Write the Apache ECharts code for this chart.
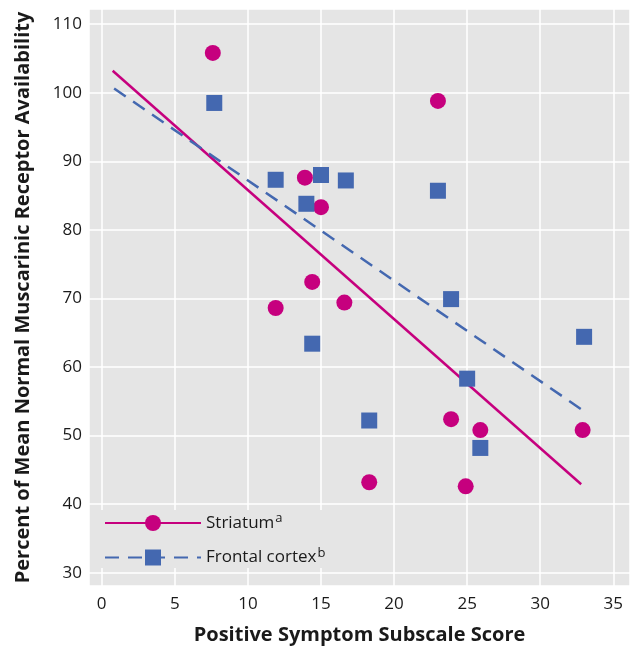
<!DOCTYPE html>
<html>
<head>
<meta charset="utf-8">
<script src="https://cdn.jsdelivr.net/npm/echarts@6/dist/echarts.min.js"></script>
<style>
html,body{margin:0;padding:0;background:#fff;}
#c{width:638px;height:650px;}
</style>
</head>
<body>
<div id="c"></div>
<script>
// Striatum (circles)
var striatumX = [7.6, 23.0, 13.9, 15.0, 11.9, 14.4, 16.6, 23.9, 25.9, 32.9, 18.3, 24.9];
var striatumY = [105.8, 98.8, 87.6, 83.3, 68.6, 72.4, 69.4, 52.4, 50.8, 50.8, 43.2, 42.6];
// Frontal cortex (squares)
var frontalX = [7.7, 11.9, 15.0, 16.7, 14.0, 23.0, 14.4, 23.9, 33.0, 25.0, 18.3, 25.9];
var frontalY = [98.5, 87.3, 88.0, 87.2, 83.8, 85.7, 63.4, 69.9, 64.4, 58.3, 52.2, 48.2];
// Regression line endpoints
var striatumFitX = [0.75, 32.8];
var striatumFitY = [103.2, 42.9];
var frontalFitX = [0.85, 32.9];
var frontalFitY = [100.6, 53.7];
// Axis ticks
var xTicks = [0, 5, 10, 15, 20, 25, 30, 35];
var yTicks = [30, 40, 50, 60, 70, 80, 90, 100, 110];
var seriesNames = ['Striatum', 'Frontal cortex'];
var seriesSup = ['a', 'b'];

function zip(xs, ys) { return xs.map(function (x, i) { return [x, ys[i]]; }); }

var MAG = '#c6007e', BLU = '#4468b0', FONT = 'Open Sans', TXT = '#1a1a1a';

var chart = echarts.init(document.getElementById('c'), null, {renderer: 'canvas'});
chart.setOption({
  animation: false,
  backgroundColor: '#ffffff',
  grid: {left: 89, right: 8, top: 9, bottom: 61, show: true, backgroundColor: '#e5e5e5', borderWidth: 0},
  xAxis: {
    type: 'value', min: -0.87, max: 36.14, minInterval: 5, maxInterval: 5,
    axisLine: {show: false}, axisTick: {show: false},
    splitLine: {show: true, lineStyle: {color: '#ffffff', width: 1.5}},
    axisLabel: {
      margin: 10, color: TXT, fontFamily: FONT, fontSize: 17,
      formatter: function (v) { return xTicks.indexOf(Math.round(v * 1000) / 1000) >= 0 ? String(v) : ''; }
    },
    name: 'Positive Symptom Subscale Score', nameLocation: 'middle', nameGap: 39,
    nameTextStyle: {color: TXT, fontFamily: FONT, fontSize: 20, fontWeight: 'bold'}
  },
  yAxis: {
    type: 'value', min: 28.07, max: 112.2, minInterval: 10, maxInterval: 10,
    axisLine: {show: false}, axisTick: {show: false},
    splitLine: {show: true, lineStyle: {color: '#ffffff', width: 1.5}},
    axisLabel: {
      margin: 7, color: TXT, fontFamily: FONT, fontSize: 17,
      formatter: function (v) { return yTicks.indexOf(Math.round(v * 1000) / 1000) >= 0 ? String(v) : ''; }
    },
    name: 'Percent of Mean Normal Muscarinic Receptor Availability', nameLocation: 'middle', nameGap: 56,
    nameTextStyle: {color: TXT, fontFamily: FONT, fontSize: 20, fontWeight: 'bold'}
  },
  legend: {
    data: seriesNames,
    orient: 'vertical', left: 96, top: 510,
    padding: [2, 12, 2, 8],
    backgroundColor: '#e5e5e5',
    itemWidth: 96, itemHeight: 20, itemGap: 15,
    textStyle: {
      color: TXT, fontFamily: FONT, fontSize: 17,
      rich: {
        n: {color: TXT, fontFamily: FONT, fontSize: 17, lineHeight: 22},
        s: {color: TXT, fontFamily: FONT, fontSize: 13, verticalAlign: 'top', padding: [0, 0, 8, 1]}
      }
    },
    formatter: function (name) {
      var i = seriesNames.indexOf(name);
      return '{n|' + name + '}{s|' + seriesSup[i] + '}';
    }
  },
  series: [
    {
      name: seriesNames[0], type: 'line', data: zip(striatumFitX, striatumFitY),
      symbol: 'circle', symbolSize: 16, showSymbol: false,
      lineStyle: {color: MAG, width: 2.5}, itemStyle: {color: MAG}, z: 2
    },
    {
      name: seriesNames[1], type: 'line', data: zip(frontalFitX, frontalFitY),
      symbol: 'rect', symbolSize: 16, showSymbol: false,
      lineStyle: {color: BLU, width: 2.5, type: [14, 9]}, itemStyle: {color: BLU}, z: 2
    },
    {
      name: 'striatum-points', type: 'scatter', data: zip(striatumX, striatumY),
      symbol: 'circle', symbolSize: 16, itemStyle: {color: MAG, opacity: 1}, z: 3
    },
    {
      name: 'frontal-points', type: 'scatter', data: zip(frontalX, frontalY),
      symbol: 'rect', symbolSize: 16, itemStyle: {color: BLU, opacity: 1}, z: 3
    }
  ]
});
</script>
</body>
</html>
